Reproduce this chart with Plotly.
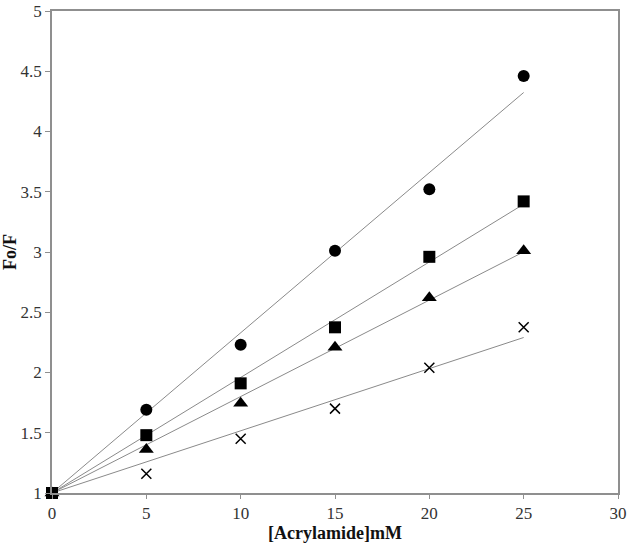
import numpy as np
import plotly.graph_objects as go

conc = [0, 5, 10, 15, 20, 25]
circle_vals = [1.0, 1.69, 2.23, 3.01, 3.52, 4.46]
square_vals = [1.0, 1.48, 1.91, 2.375, 2.96, 3.42]
triangle_vals = [1.0, 1.36, 1.745, 2.21, 2.62, 3.01]
cross_vals = [1.0, 1.16, 1.45, 1.70, 2.04, 2.375]

x_ticks = [0, 5, 10, 15, 20, 25, 30]
y_ticks = [1, 1.5, 2, 2.5, 3, 3.5, 4, 4.5, 5]
y_tick_text = ["1", "1.5", "2", "2.5", "3", "3.5", "4", "4.5", "5"]

x_arr = np.array(conc, dtype=float)

def fit_line(vals):
    y = np.array(vals, dtype=float) - 1.0
    slope = np.sum(x_arr * y) / np.sum(x_arr ** 2)
    return [1.0 + slope * v for v in x_arr]

fig = go.Figure()

series = [
    ("circle", circle_vals, 12, None),
    ("triangle-up", triangle_vals, 13, None),
    ("x-thin", cross_vals, 10, 1.5),
    ("square", square_vals, 12, None),
]

for sym, vals, size, lw in series:
    fig.add_trace(go.Scatter(
        x=conc, y=fit_line(vals), mode="lines",
        line=dict(color="#8a8a8a", width=1), showlegend=False, hoverinfo="skip"))

for sym, vals, size, lw in series:
    marker = dict(symbol=sym, size=size, color="black")
    if lw:
        marker["line"] = dict(color="black", width=lw)
    else:
        marker["line"] = dict(width=0)
    fig.add_trace(go.Scatter(x=conc, y=vals, mode="markers", marker=marker,
                             cliponaxis=False, showlegend=False))

axis_font = dict(family="Liberation Serif", size=17, color="#333333")
title_font = dict(family="Liberation Serif", size=18, color="#111111")

fig.update_layout(
    width=630, height=543,
    margin=dict(l=52, r=12, t=11, b=50),
    plot_bgcolor="white", paper_bgcolor="white",
    xaxis=dict(
        range=[0, 30], tickvals=x_ticks, ticktext=[str(t) for t in x_ticks],
        showgrid=False, zeroline=False, automargin=False,
        showline=True, linecolor="#8f8f8f", linewidth=1.5, mirror=True,
        ticks="outside", ticklen=4, tickcolor="#8f8f8f", tickwidth=1,
        tickfont=axis_font,
        title=dict(text="<b>[Acrylamide]mM</b>", font=title_font, standoff=0),
    ),
    yaxis=dict(
        range=[1, 5], tickvals=y_ticks, ticktext=y_tick_text,
        showgrid=False, zeroline=False, automargin=False,
        showline=True, linecolor="#8f8f8f", linewidth=1.5, mirror=True,
        ticks="outside", ticklen=5, tickcolor="#8f8f8f", tickwidth=1,
        tickfont=axis_font,
        title=dict(text="<b>Fo/F</b>", font=title_font, standoff=6),
    ),
)

fig.write_html(
    "out.html",
    config={"displayModeBar": False},
    post_script="document.body.style.margin='0';document.body.style.overflow='hidden';",
)
